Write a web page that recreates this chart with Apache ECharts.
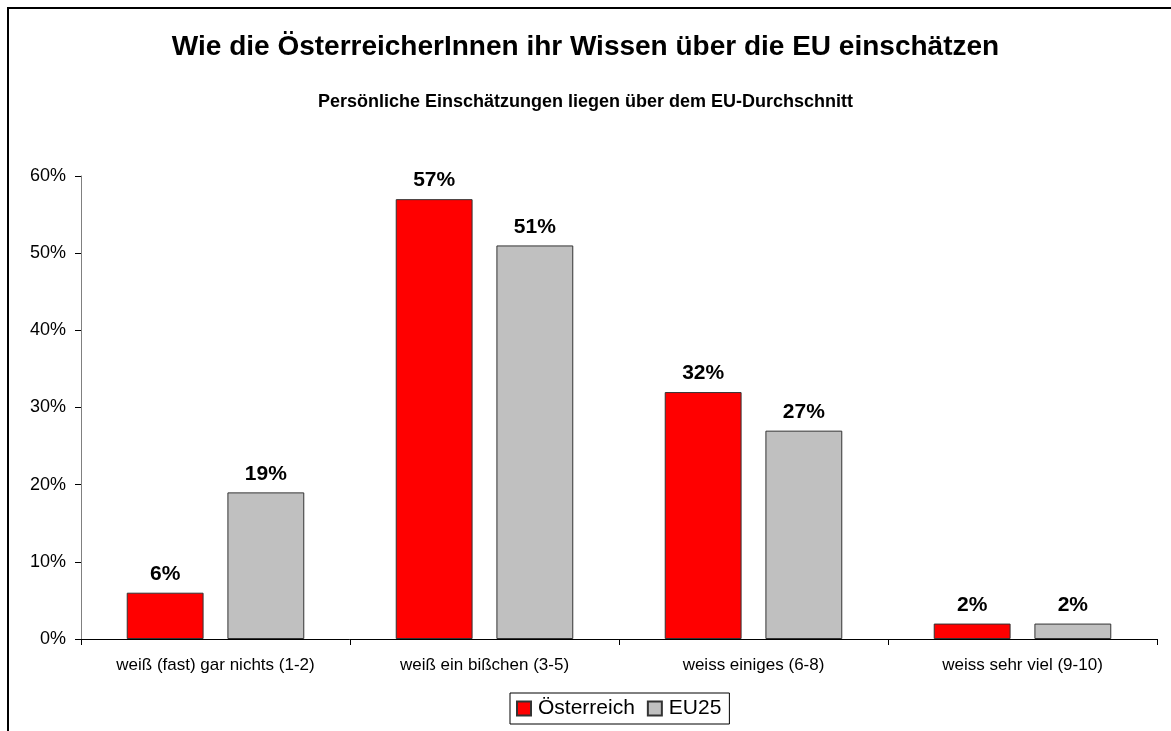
<!DOCTYPE html>
<html>

<head>
    <meta charset="utf-8">
    <title>ECharts</title>
    <script src="https://cdn.jsdelivr.net/npm/echarts@6/dist/echarts.min.js"></script>
    <style>
        html, body { margin: 0; padding: 0; background: #fff; overflow: hidden; }
        #frame { position: absolute; left: 7px; top: 7px; width: 1200px; height: 800px;
                 border-left: 2px solid #000; border-top: 2px solid #000; }
    </style>
</head>

<body>
    <div id="frame"></div>
    <div id="main" style="position:absolute;left:0;top:0;width:1171px;height:731px;"></div>
    <script type="text/javascript">
        var categories = ['weiß (fast) gar nichts (1-2)', 'weiß ein bißchen (3-5)', 'weiss einiges (6-8)', 'weiss sehr viel (9-10)'];
        var oesterreich = [6, 57, 32, 2];
        var eu25 = [19, 51, 27, 2];

        var myChart = echarts.init(document.getElementById('main'));
        var font = 'Liberation Sans, Arial, sans-serif';

        var labelStyle = {
            show: true,
            position: 'top',
            distance: 8,
            formatter: '{c}%',
            fontFamily: font,
            fontWeight: 'bold',
            fontSize: 21,
            color: '#000'
        };

        myChart.setOption({
            backgroundColor: 'transparent',
            animation: false,
            title: [{
                text: 'Wie die ÖsterreicherInnen ihr Wissen über die EU einschätzen',
                left: 'center',
                top: 28,
                textStyle: { fontFamily: font, fontWeight: 'bold', fontSize: 28, color: '#000' }
            }, {
                text: 'Persönliche Einschätzungen liegen über dem EU-Durchschnitt',
                left: 'center',
                top: 88,
                textStyle: { fontFamily: font, fontWeight: 'bold', fontSize: 18, color: '#000' }
            }],
            legend: {
                top: 693,
                left: 510,
                itemWidth: 14,
                itemHeight: 14,
                itemGap: 12,
                padding: [5, 8, 5, 6],
                borderColor: '#000',
                borderWidth: 1,
                icon: 'rect',
                textStyle: { fontFamily: font, fontSize: 21, color: '#000', padding: [0, 0, 0, 2] },
                data: ['Österreich', 'EU25']
            },
            grid: { left: 81, right: 14, top: 176, bottom: 92 },
            xAxis: {
                type: 'category',
                data: categories,
                axisLine: { lineStyle: { color: '#000', width: 1 } },
                axisTick: { show: true, length: 6, lineStyle: { color: '#000' } },
                axisLabel: { fontFamily: font, fontSize: 17, color: '#000', margin: 18 }
            },
            yAxis: {
                type: 'value',
                min: 0,
                max: 60,
                interval: 10,
                axisLine: { show: true, lineStyle: { color: '#808080' } },
                axisTick: { show: true, length: 6, lineStyle: { color: '#000' } },
                splitLine: { show: false },
                axisLabel: { formatter: '{value}%', fontFamily: font, fontSize: 18, color: '#000', margin: 15 }
            },
            series: [{
                name: 'Österreich',
                type: 'bar',
                data: oesterreich,
                barGap: '31%',
                barCategoryGap: '34%',
                itemStyle: { color: '#ff0000', borderColor: '#333', borderWidth: 1 },
                label: labelStyle
            }, {
                name: 'EU25',
                type: 'bar',
                data: eu25,
                itemStyle: { color: '#c0c0c0', borderColor: '#333', borderWidth: 1 },
                label: labelStyle
            }]
        });
    </script>
</body>

</html>
